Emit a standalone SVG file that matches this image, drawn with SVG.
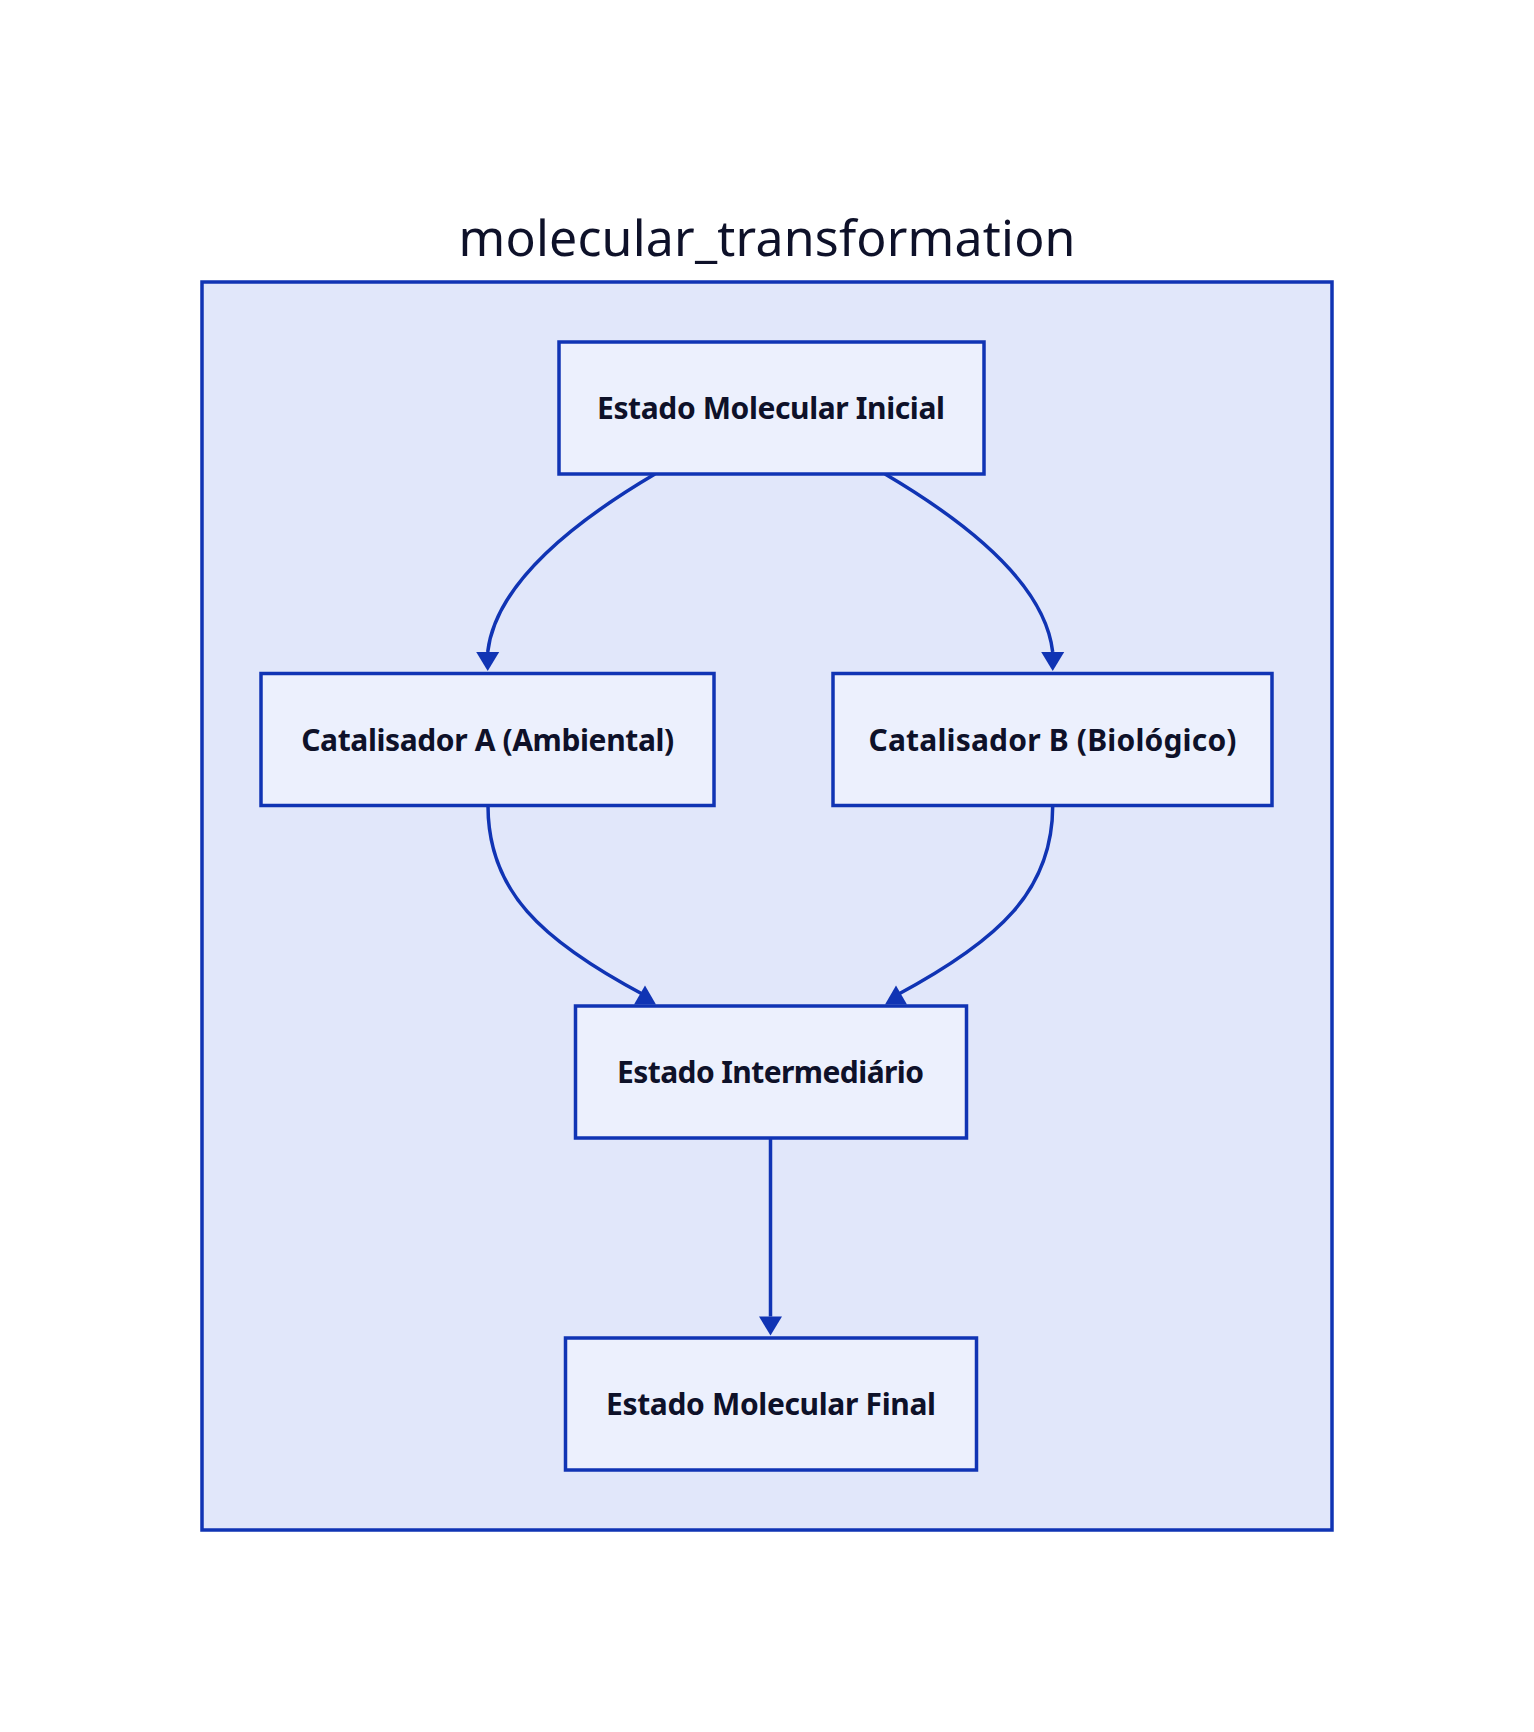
<svg xmlns="http://www.w3.org/2000/svg" width="1534" height="1732" viewBox="0 0 1534 1732">
  <style>
    .cluster { fill: #E1E7FA; stroke: #1034B4; stroke-width: 3.5; }
    .node rect { fill: #ECF0FD; stroke: #1034B4; stroke-width: 3.5; }
    .label { font-family: "Noto Sans", "Open Sans", "Liberation Sans", sans-serif; font-weight: 700; font-size: 30px; fill: #0E1129; text-anchor: middle; }
    .title { font-family: "Noto Sans", "Open Sans", "Liberation Sans", sans-serif; font-weight: 400; font-size: 50px; fill: #0E1129; text-anchor: middle; }
    .edge { fill: none; stroke: #1034B4; stroke-width: 3.5; }
    .head { fill: #1034B4; stroke: none; }
  </style>
  <defs>
    <marker id="arrowDown" markerUnits="userSpaceOnUse" markerWidth="23" markerHeight="19" refX="11.5" refY="0" orient="0" overflow="visible">
      <path class="head" d="M0,0 L23,0 L11.5,19 Z"/>
    </marker>
    <marker id="arrowUp" markerUnits="userSpaceOnUse" markerWidth="22" markerHeight="19" refX="11" refY="10" orient="0" overflow="visible">
      <path class="head" d="M0,19 L22,19 L11,0 Z"/>
    </marker>
  </defs>
  <rect x="0" y="0" width="1534" height="1732" fill="#FFFFFF"/>

  <g id="cluster-molecular_transformation">
    <rect class="cluster" x="202" y="282" width="1130" height="1248"/>
    <text class="title" x="767" y="256" textLength="617">molecular_transformation</text>
  </g>

  <g id="connectors">
    <path class="edge" d="M655,474 C560,530 495,590 487.7,652" marker-end="url(#arrowDown)"/>
    <path class="edge" d="M885,474 C980,530 1045.7,590 1052.7,652" marker-end="url(#arrowDown)"/>
    <path class="edge" d="M488,806 C488,890 540,940 645,995.5" marker-end="url(#arrowUp)"/>
    <path class="edge" d="M1052.7,806 C1052.7,890 1000,940 896,995.5" marker-end="url(#arrowUp)"/>
    <path class="edge" d="M770.5,1138 L770.5,1316.5" marker-end="url(#arrowDown)"/>
  </g>

  <g id="node-inicial" class="node">
    <rect x="559" y="342" width="425" height="132"/>
    <text class="label" x="771" y="419" textLength="348">Estado Molecular Inicial</text>
  </g>
  <g id="node-catA" class="node">
    <rect x="261" y="673.5" width="453" height="132"/>
    <text class="label" x="487.7" y="751" textLength="373">Catalisador A (Ambiental)</text>
  </g>
  <g id="node-catB" class="node">
    <rect x="833" y="673.5" width="439" height="132"/>
    <text class="label" x="1052.5" y="751" textLength="368">Catalisador B (Biológico)</text>
  </g>
  <g id="node-intermediario" class="node">
    <rect x="575.5" y="1006" width="391" height="132"/>
    <text class="label" x="770.5" y="1083" textLength="307">Estado Intermediário</text>
  </g>
  <g id="node-final" class="node">
    <rect x="565.5" y="1338" width="411" height="132"/>
    <text class="label" x="771" y="1415" textLength="330">Estado Molecular Final</text>
  </g>
</svg>
